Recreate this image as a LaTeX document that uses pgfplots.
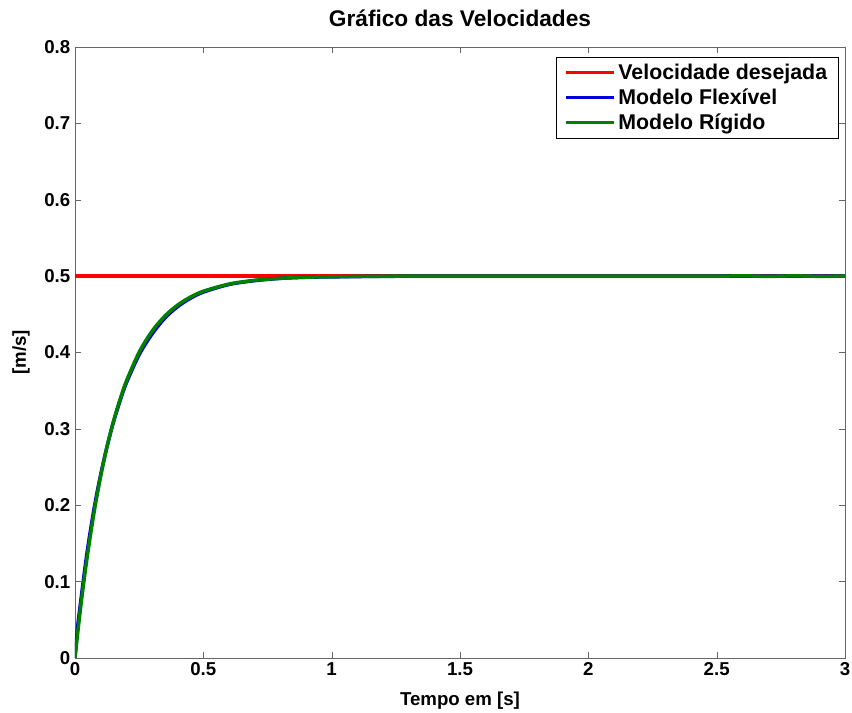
\documentclass[border=0pt]{standalone}
\usepackage{pgfplots}
\pgfplotsset{compat=1.18}
\usepackage{fontspec}
\setmainfont{Liberation Sans}
\definecolor{cred}{RGB}{255,0,0}
\definecolor{cblue}{RGB}{0,0,220}
\definecolor{cgreen}{RGB}{0,128,0}
\begin{document}
\begin{tikzpicture}
\begin{axis}[
  scale only axis,
  width=577.5pt, height=458.25pt,
  xmin=0, xmax=3, ymin=0, ymax=0.8,
  xtick={0,0.5,1,1.5,2,2.5,3},
  ytick={0,0.1,0.2,0.3,0.4,0.5,0.6,0.7,0.8},
  tick align=inside,
  tick pos=both,
  axis line style={gray!80!black},
  major tick style={gray!80!black},
  /pgf/number format/assume math mode=true,
  ticklabel style={font=\fontsize{14}{16}\selectfont\bfseries},
  title={Gráfico das Velocidades},
  title style={font=\fontsize{17}{20}\selectfont\bfseries, yshift=6pt},
  xlabel={Tempo em [s]},
  ylabel={[m/s]},
  label style={font=\fontsize{14}{16}\selectfont\bfseries},
  xlabel style={yshift=-5pt},
  ylabel style={yshift=4pt},
  legend style={at={(rel axis cs:0.991,0.984)}, anchor=north east,
    font=\fontsize{16}{18}\selectfont\bfseries, draw=black,
    inner xsep=6pt, inner ysep=3pt, row sep=1.5pt},
  legend image code/.code={\draw[#1, line width=2.6pt] (0pt,0pt) -- (26pt,0pt);
    \path (0pt,0pt) -- (36pt,0pt);},
  legend cell align=left,
]
\addplot[cred, line width=2.8pt] coordinates {(0,0.5) (3,0.5)};
\addlegendentry{Velocidade desejada}
\addplot[cblue, line width=2.6pt, smooth] coordinates {
(0,0) (0.01,0.040) (0.02,0.068) (0.035,0.108) (0.05,0.145) (0.075,0.197) (0.1,0.240) (0.125,0.277) (0.15,0.309)
(0.175,0.336) (0.2,0.360) (0.25,0.397) (0.3,0.424) (0.35,0.445) (0.4,0.460) (0.45,0.471)
(0.5,0.479) (0.6,0.489) (0.7,0.494) (0.8,0.497) (0.9,0.4985) (1.0,0.499)
(1.2,0.4997) (1.5,0.5) (2,0.5) (2.5,0.5) (3,0.5)};
\addlegendentry{Modelo Flexível}
\addplot[cgreen, line width=2.6pt, smooth] coordinates {
(0,0) (0.01,0.031) (0.02,0.0605) (0.035,0.101) (0.05,0.1379) (0.075,0.192) (0.1,0.2377) (0.125,0.277) (0.15,0.310)
(0.175,0.338) (0.2,0.3624) (0.25,0.4004) (0.3,0.4278) (0.35,0.4477) (0.4,0.4621) (0.45,0.4726)
(0.5,0.4802) (0.6,0.4896) (0.7,0.4945) (0.8,0.4971) (0.9,0.4985) (1.0,0.4992)
(1.2,0.4998) (1.5,0.5) (2,0.5) (2.5,0.5) (2.6,0.5004) (2.7,0.4996) (2.8,0.5003) (2.9,0.4997) (3,0.5)};
\addlegendentry{Modelo Rígido}
\coordinate (bl) at (rel axis cs:-0.0974,-0.090);
\coordinate (tr) at (rel axis cs:1.00909,1.0769);
\end{axis}
\pgfresetboundingbox
\path[use as bounding box] (bl) rectangle (tr);
\end{tikzpicture}
\end{document}
